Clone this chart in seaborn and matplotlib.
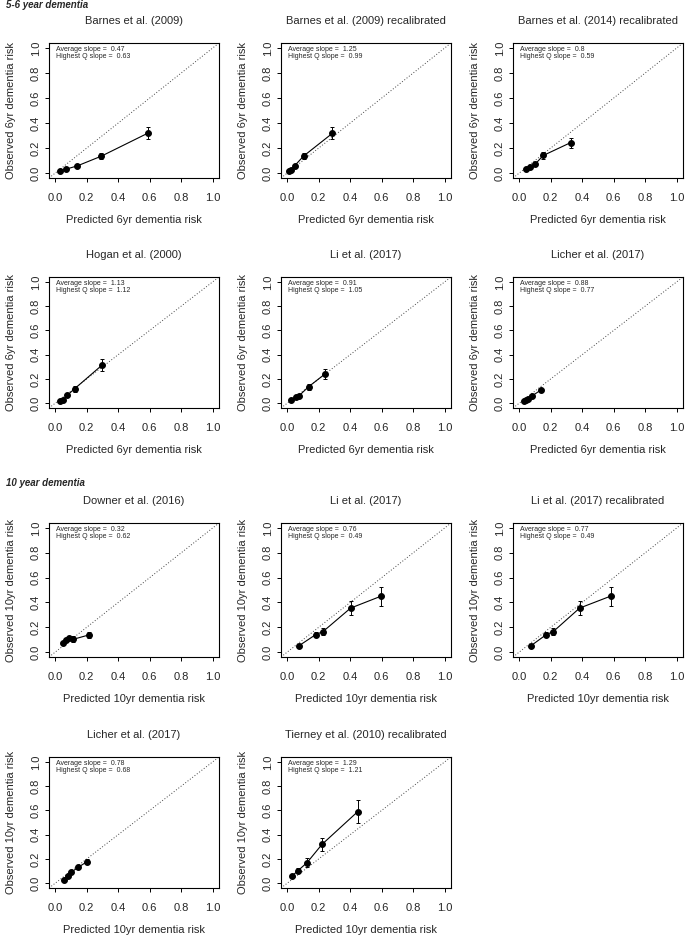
import matplotlib
matplotlib.use("Agg")
import matplotlib.pyplot as plt
import seaborn as sns
import pandas as pd

# ---- data ----
titles = ["Barnes et al. (2009)", "Barnes et al. (2009) recalibrated", "Barnes et al. (2014) recalibrated",
          "Hogan et al. (2000)", "Li et al. (2017)", "Licher et al. (2017)",
          "Downer et al. (2016)", "Li et al. (2017)", "Li et al. (2017) recalibrated",
          "Licher et al. (2017)", "Tierney et al. (2010) recalibrated"]
avg_slope = ["0.47", "1.25", "0.8", "1.13", "0.91", "0.88", "0.32", "0.76", "0.77", "0.78", "1.29"]
highq_slope = ["0.63", "0.99", "0.59", "1.12", "1.05", "0.77", "0.62", "0.49", "0.49", "0.68", "1.21"]
horizon = ["6yr"] * 6 + ["10yr"] * 5

barnes09_pred = [0.028, 0.066, 0.14, 0.293, 0.587]
barnes09_obs = [0.016, 0.030, 0.057, 0.135, 0.318]
barnes09_err = [0.006, 0.008, 0.012, 0.025, 0.048]

barnes09r_pred = [0.009, 0.024, 0.046, 0.103, 0.287]
barnes09r_obs = [0.014, 0.024, 0.057, 0.135, 0.318]
barnes09r_err = [0.005, 0.007, 0.010, 0.025, 0.050]

barnes14r_pred = [0.040, 0.070, 0.100, 0.152, 0.326]
barnes14r_obs = [0.030, 0.051, 0.070, 0.140, 0.243]
barnes14r_err = [0.006, 0.008, 0.012, 0.025, 0.040]

hogan_pred = [0.028, 0.049, 0.076, 0.123, 0.299]
hogan_obs = [0.014, 0.027, 0.065, 0.119, 0.316]
hogan_err = [0.005, 0.008, 0.012, 0.025, 0.050]

li6_pred = [0.024, 0.056, 0.073, 0.135, 0.237]
li6_obs = [0.022, 0.054, 0.059, 0.135, 0.238]
li6_err = [0.006, 0.009, 0.010, 0.025, 0.040]

licher6_pred = [0.030, 0.044, 0.057, 0.078, 0.137]
licher6_obs = [0.014, 0.024, 0.035, 0.057, 0.108]
licher6_err = [0.004, 0.005, 0.006, 0.008, 0.012]

downer_pred = [0.051, 0.066, 0.085, 0.112, 0.214]
downer_obs = [0.070, 0.095, 0.114, 0.102, 0.138]
downer_err = [0.012, 0.015, 0.018, 0.025, 0.025]

li10_pred = [0.072, 0.180, 0.227, 0.402, 0.597]
li10_obs = [0.049, 0.140, 0.165, 0.354, 0.451]
li10_err = [0.015, 0.022, 0.030, 0.054, 0.077]

li10r_pred = [0.072, 0.171, 0.216, 0.383, 0.581]
li10r_obs = [0.049, 0.140, 0.165, 0.354, 0.451]
li10r_err = [0.015, 0.022, 0.030, 0.054, 0.077]

licher10_pred = [0.055, 0.078, 0.100, 0.145, 0.200]
licher10_obs = [0.030, 0.062, 0.089, 0.130, 0.176]
licher10_err = [0.006, 0.008, 0.010, 0.015, 0.020]

tierney_pred = [0.030, 0.068, 0.126, 0.220, 0.447]
tierney_obs = [0.059, 0.103, 0.170, 0.319, 0.589]
tierney_err = [0.012, 0.020, 0.035, 0.054, 0.096]

panels = [
    (barnes09_pred, barnes09_obs, barnes09_err),
    (barnes09r_pred, barnes09r_obs, barnes09r_err),
    (barnes14r_pred, barnes14r_obs, barnes14r_err),
    (hogan_pred, hogan_obs, hogan_err),
    (li6_pred, li6_obs, li6_err),
    (licher6_pred, licher6_obs, licher6_err),
    (downer_pred, downer_obs, downer_err),
    (li10_pred, li10_obs, li10_err),
    (li10r_pred, li10r_obs, li10r_err),
    (licher10_pred, licher10_obs, licher10_err),
    (tierney_pred, tierney_obs, tierney_err),
]

ticks = [0.0, 0.2, 0.4, 0.6, 0.8, 1.0]

sns.set_style("ticks")
plt.rcParams['font.family'] = ['Liberation Sans', 'DejaVu Sans']

W, H = 685, 938
fig = plt.figure(figsize=(W / 100, H / 100), dpi=100)

# box positions in pixels (left, top) ; widths / heights
col_left = [49, 281, 513]
col_w = 170
row_top = [43, 277, 523, 757]
row_h = [135, 131, 134, 131]

for i, (pred, obs, err) in enumerate(panels):
    r, c = divmod(i, 3)
    l, t, h = col_left[c], row_top[r], row_h[r]
    ax = fig.add_axes([l / W, 1 - (t + h) / H, col_w / W, h / H])

    df = pd.DataFrame({'pred': pred, 'obs': obs})
    ax.axline((0, 0), slope=1, color='#444444', linestyle=(0, (1, 2)), linewidth=0.7)
    sns.lineplot(data=df, x='pred', y='obs', ax=ax, color='black', marker='o',
                 markersize=4.2, markeredgecolor='black', linewidth=0.8,
                 estimator=None, sort=False)
    ax.errorbar(pred, obs, yerr=err, fmt='none', ecolor='black', elinewidth=0.7,
                capsize=1.6, capthick=0.7)

    ax.set_xlim(-0.04, 1.04)
    ax.set_ylim(-0.04, 1.04)
    ax.set_xticks(ticks)
    ax.set_yticks(ticks)
    ax.set_xticklabels([f"{v:.1f}" for v in ticks])
    ax.set_yticklabels([f"{v:.1f}" for v in ticks], rotation=90, va='center')
    ax.tick_params(direction='out', length=3, width=0.7, labelsize=8, color='black')
    ax.tick_params(axis='x', pad=8)
    ax.tick_params(axis='y', pad=3)
    for s in ax.spines.values():
        s.set_color('black')
        s.set_linewidth(0.8)

    ax.set_title(titles[i], fontsize=8, pad=14)
    ax.set_xlabel(f"Predicted {horizon[i]} dementia risk", fontsize=8)
    ax.set_ylabel(f"Observed {horizon[i]} dementia risk", fontsize=8)
    ax.xaxis.set_label_coords(0.5, -37 / h)
    ax.yaxis.set_label_coords(-33 / col_w, 0.5)

    ax.text(0.04, 0.95, f"Average slope =  {avg_slope[i]}", transform=ax.transAxes,
            fontsize=5, ha='left', va='center')
    ax.text(0.04, 0.90, f"Highest Q slope =  {highq_slope[i]}", transform=ax.transAxes,
            fontsize=5, ha='left', va='center')

fig.text(6 / W, 1 - 5 / H, "5-6 year dementia", fontsize=7, fontweight='bold',
         fontstyle='italic', ha='left', va='center')
fig.text(6 / W, 1 - 483 / H, "10 year dementia", fontsize=7, fontweight='bold',
         fontstyle='italic', ha='left', va='center')

fig.savefig("out.png", dpi=100)
